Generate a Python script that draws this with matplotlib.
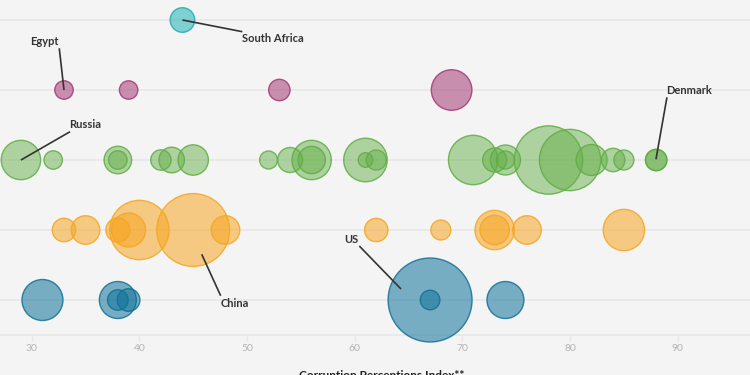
import matplotlib
matplotlib.use("Agg")
import matplotlib.pyplot as plt

# ---- data ----
# Corruption Perceptions Index per country bubble, grouped by region row
ssa_cpi = [44]
ssa_val = [15.1]

mena_cpi = [33, 39, 53, 69]
mena_val = [8.5, 8.5, 11.4, 41.2]

europe_cpi = [29, 32, 38, 38, 42, 43, 45, 52, 54, 56, 56, 61, 61, 62,
              71, 73, 74, 74, 78, 80, 82, 84, 85, 88, 88]
europe_val = [38.8, 8.5, 19.0, 8.6, 10.4, 16.4, 23.1, 8.1, 15.6, 38.8, 18.8, 47.5, 5.3, 10.0,
              61.0, 14.4, 22.5, 8.1, 117.0, 94.0, 24.0, 13.7, 10.0, 11.4, 11.4]

asia_cpi = [33, 35, 38, 39, 40, 45, 48, 62, 68, 73, 73, 76, 85]
asia_val = [13.9, 20.4, 14.4, 28.9, 88.2, 133.0, 20.4, 13.7, 10.0, 38.8, 21.6, 20.4, 42.8]

americas_cpi = [31, 38, 38, 39, 67, 67, 74]
americas_val = [42.0, 34.2, 10.6, 12.8, 176.4, 9.6, 34.2]

xticks = [30, 40, 50, 60, 70, 80, 90]
x_label = "Corruption Perceptions Index**"

labels = ["South Africa", "Egypt", "Russia", "Denmark", "China", "US"]

# ---- style ----
BG = "#f4f4f4"
GRID = "#e8e8e8"
TXT = "#333333"
SCALE = 20.7  # value -> marker area (pt^2)

fig = plt.figure(figsize=(7.5, 3.75), dpi=100, facecolor=BG)
ax = fig.add_axes([0, 40 / 375, 1, 335 / 375], facecolor=BG)

rows = [
    (5, ssa_cpi, ssa_val, "#1fb3b5", "#21aab0", 0.55),
    (4, mena_cpi, mena_val, "#a43a76", "#a33872", 0.55),
    (3, europe_cpi, europe_val, "#68b04b", "#5fae44", 0.5),
    (2, asia_cpi, asia_val, "#f7a623", "#f5a623", 0.55),
    (1, americas_cpi, americas_val, "#0f7399", "#136f95", 0.55),
]

for y, xs, vals, fc, ec, a in rows:
    ax.axhline(y, color=GRID, lw=1.3, zorder=0)
    sz = [v * SCALE for v in vals]
    ax.scatter(xs, [y] * len(xs), s=sz, facecolor=fc, alpha=a, edgecolor="none",
               zorder=3, clip_on=False)
    ax.scatter(xs, [y] * len(xs), s=sz, facecolor="none", edgecolor=ec, alpha=0.85,
               linewidth=1.0, zorder=4, clip_on=False)

ax.set_xlim(27.056, 27.056 + 750 / 10.767)
ax.set_ylim(0.5, 5 + 20 / 70)

for s in ["top", "right", "left"]:
    ax.spines[s].set_visible(False)
ax.spines["bottom"].set_color(GRID)
ax.spines["bottom"].set_linewidth(1.3)
ax.spines["bottom"].set_zorder(0.5)
ax.set_yticks([])
ax.set_xticks(xticks)
ax.set_xticklabels([str(t) for t in xticks])
ax.tick_params(axis="x", colors=GRID, length=4, width=1, pad=2.5, labelsize=7.5,
               labelcolor="#b3b3b3")
for t in ax.get_xticklabels():
    t.set_fontfamily("Lato")

fs = 8
fam = "Lato"
lw = 1.2


def ann(text, x0, y0, x1, y1, tx, ty, ha):
    ax.plot([x0, x1], [y0, y1], color=TXT, lw=lw, zorder=5, clip_on=False,
            solid_capstyle="butt")
    ax.text(tx, ty, text, ha=ha, va="center", fontsize=fs, fontweight="bold",
            family=fam, color=TXT, zorder=6)


ann(labels[0], 44, 5, 49.56, 4.833, 49.5, 4.73, "left")
ann(labels[1], 33, 4, 32.56, 4.596, 31.16, 4.686, "center")
ann(labels[2], 29, 3, 33.56, 3.404, 35.0, 3.5, "center")
ann(labels[3], 87.98, 3.01, 89.0, 3.896, 88.95, 3.986, "left")
ann(labels[4], 45.79, 1.653, 47.55, 1.061, 47.55, 0.953, "left")
ann(labels[5], 64.30, 1.157, 60.43, 1.771, 60.35, 1.871, "right")

fig.text(382 / 750, 5 / 375, x_label, ha="center", va="top", fontsize=8.5,
         fontweight="bold", family=fam, color="#222222")

fig.savefig("out.png", dpi=100, facecolor=BG)
